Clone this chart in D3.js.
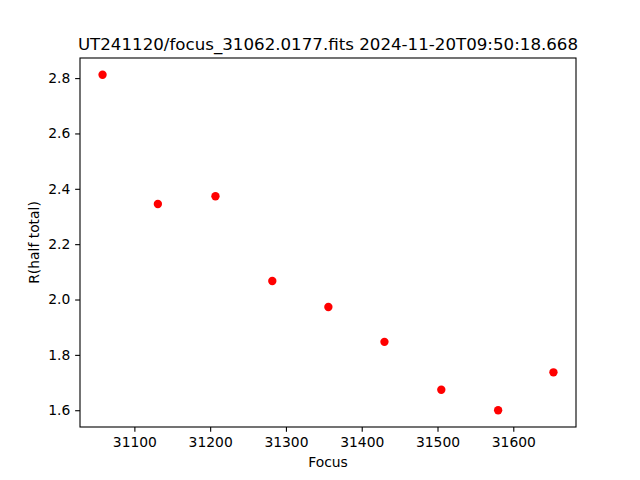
<!DOCTYPE html>
<html>
<head>
<meta charset="utf-8">
<script src="https://cdn.jsdelivr.net/npm/d3@7"></script>
<style>
  html, body { margin: 0; padding: 0; background: #fff; }
  svg { display: block; }
  text { font-family: "DejaVu Sans", sans-serif; fill: #000; }
</style>
</head>
<body>
<svg id="chart" width="640" height="480"></svg>
<script>
const titleText = "UT241120/focus_31062.0177.fits 2024-11-20T09:50:18.668";
const xLabel = "Focus";
const yLabel = "R(half total)";
const focusValues = [31058, 31131, 31207, 31282, 31356, 31430, 31505, 31580, 31653];
const radiusValues = [2.812, 2.345, 2.373, 2.067, 1.973, 1.847, 1.674, 1.600, 1.737];
const xTicks = [31100, 31200, 31300, 31400, 31500, 31600];
const yTicks = [1.6, 1.8, 2.0, 2.2, 2.4, 2.6, 2.8];

(function () {
const svg = d3.select("#chart");
const mLeft = 80, mRight = 576, mTop = 58, mBottom = 427;

function padded(ext) {
  const span = ext[1] - ext[0];
  return [ext[0] - span * 0.05, ext[1] + span * 0.05];
}

const x = d3.scaleLinear().domain(padded(d3.extent(focusValues))).range([mLeft, mRight]);
const y = d3.scaleLinear().domain(padded(d3.extent(radiusValues))).range([mBottom, mTop]);

const tickLen = 4.86;
const xAxis = d3.axisBottom(x).tickValues(xTicks).tickFormat(d3.format("d"))
  .tickSizeInner(tickLen).tickSizeOuter(0).tickPadding(4.9);
const yAxis = d3.axisLeft(y).tickValues(yTicks).tickFormat(d3.format(".1f"))
  .tickSizeInner(tickLen).tickSizeOuter(0).tickPadding(4.9);

const gx = svg.append("g").attr("transform", `translate(0,${mBottom})`).call(xAxis);
const gy = svg.append("g").attr("transform", `translate(${mLeft},0)`).call(yAxis);
[gx, gy].forEach(g => {
  g.select(".domain").remove();
  g.selectAll(".tick line").attr("stroke", "#000").attr("stroke-width", 1.1);
  g.selectAll(".tick text").attr("font-size", "13.89px").attr("font-family", "DejaVu Sans").attr("fill", "#000");
});

svg.append("g").selectAll("circle")
  .data(focusValues.map((f, i) => ({ f, r: radiusValues[i] })))
  .join("circle")
  .attr("cx", d => x(d.f))
  .attr("cy", d => y(d.r))
  .attr("r", 4.17)
  .attr("fill", "#ff0000");

svg.append("rect")
  .attr("x", mLeft).attr("y", mTop)
  .attr("width", mRight - mLeft).attr("height", mBottom - mTop)
  .attr("fill", "none").attr("stroke", "#000").attr("stroke-width", 1.1);

svg.append("text")
  .attr("x", (mLeft + mRight) / 2).attr("y", 50)
  .attr("text-anchor", "middle").attr("font-size", "16.67px")
  .text(titleText);

svg.append("text")
  .attr("x", (mLeft + mRight) / 2).attr("y", 467)
  .attr("text-anchor", "middle").attr("font-size", "13.89px")
  .text(xLabel);

svg.append("text")
  .attr("transform", `translate(39,${(mTop + mBottom) / 2}) rotate(-90)`)
  .attr("text-anchor", "middle").attr("font-size", "13.89px")
  .text(yLabel);
})();
</script>
</body>
</html>
